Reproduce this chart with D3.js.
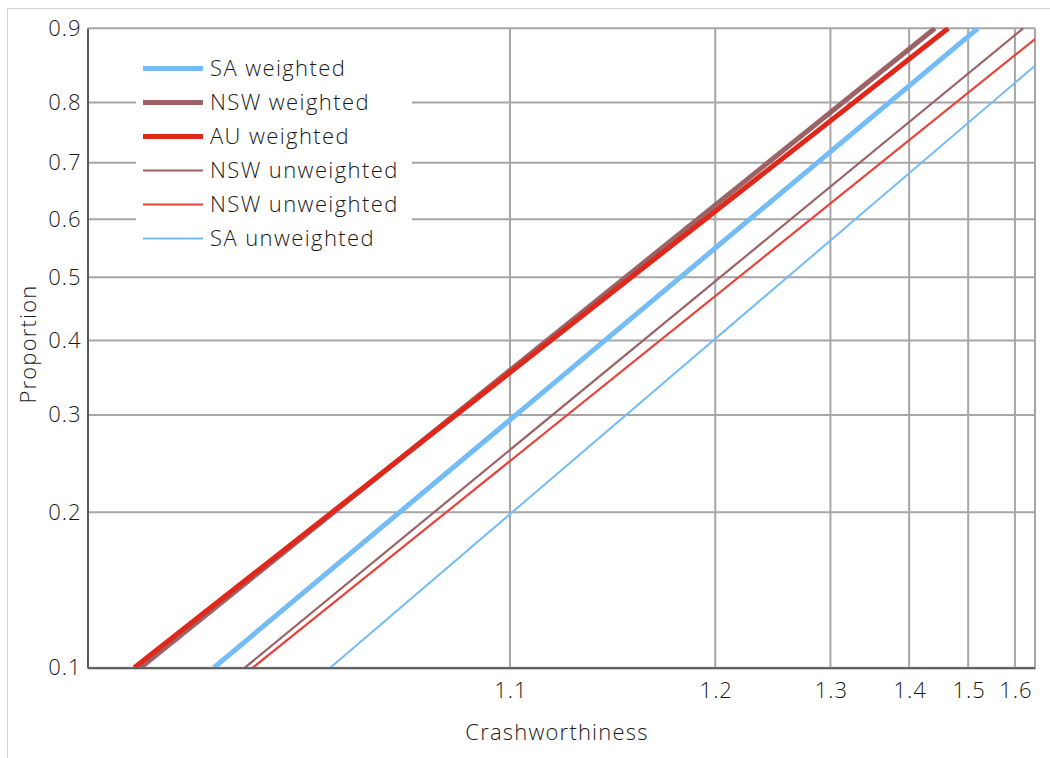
<!DOCTYPE html>
<html>
<head>
<meta charset="utf-8">
<script src="https://cdn.jsdelivr.net/npm/d3@7"></script>
<style>
  html, body { margin: 0; padding: 0; background: #fff; }
  svg { display: block; }
  text { font-family: "Open Sans", sans-serif; font-weight: 300; fill: #1a1a1a; }
</style>
</head>
<body>
<svg id="chart" width="1050" height="758"></svg>
<script>
// ---------- data ----------
const xTicks = [1.1, 1.2, 1.3, 1.4, 1.5, 1.6];
const xTickLabels = ["1.1", "1.2", "1.3", "1.4", "1.5", "1.6"];
const yTicks = [0.1, 0.2, 0.3, 0.4, 0.5, 0.6, 0.7, 0.8, 0.9];
const yTickLabels = ["0.1", "0.2", "0.3", "0.4", "0.5", "0.6", "0.7", "0.8", "0.9"];
const xDomain = [1.0254, 1.65];
const yDomain = [0.1, 0.9];

const seriesNames = ["SA weighted", "NSW weighted", "AU weighted", "NSW unweighted", "NSW unweighted", "SA unweighted"];
// [crashworthiness, proportion] end points of each fitted line
const saWeighted    = [[1.0381, 0.1], [1.5191, 0.9]];
const nswWeighted   = [[1.0301, 0.1], [1.4405, 0.9]];
const auWeighted    = [[1.0295, 0.1], [1.4633, 0.9]];
const nswUnweighted = [[1.0421, 0.1], [1.6200, 0.9]];
const nswUnweighted2 = [[1.0432, 0.1], [1.6500, 0.8877]];
const saUnweighted  = [[1.0555, 0.1], [1.6500, 0.8538]];
const seriesData = [saWeighted, nswWeighted, auWeighted, nswUnweighted, nswUnweighted2, saUnweighted];

// ---------- styles ----------
const seriesColors = ["#74bcf5", "#9b6366", "#e1261a", "#9b6366", "#e8423a", "#74bcf5"];
const seriesWidths = [5, 5, 5, 2.2, 2.2, 2];
const fontFamily = "'Open Sans', sans-serif";

// ---------- layout ----------
const svg = d3.select("#chart");
const pLeft = 87.5, pRight = 1035, pTop = 28.3, pBottom = 667.7;

// Weibull-probability transforms
const tx = v => Math.log(Math.log(v));
const ty = p => Math.log(-Math.log(1 - p));

const xLin = d3.scaleLinear().domain(xDomain.map(tx)).range([pLeft, pRight]);
const yLin = d3.scaleLinear().domain(yDomain.map(ty)).range([pBottom, pTop]);
const x = v => xLin(tx(v));
const y = p => yLin(ty(p));

// outer frame
svg.append("rect")
  .attr("x", 7.5).attr("y", 8.5).attr("width", 1100).attr("height", 800)
  .attr("fill", "none").attr("stroke", "#d4d4d4").attr("stroke-width", 1);

// grid
const grid = svg.append("g");
grid.selectAll("line.gx").data(xTicks).join("line")
  .attr("x1", d => x(d)).attr("x2", d => x(d))
  .attr("y1", pTop).attr("y2", pBottom)
  .attr("stroke", "#a6a6a6").attr("stroke-width", 2);
grid.selectAll("line.gy").data(yTicks).join("line")
  .attr("x1", pLeft).attr("x2", pRight)
  .attr("y1", d => y(d)).attr("y2", d => y(d))
  .attr("stroke", "#a6a6a6").attr("stroke-width", 2);
grid.append("line").attr("x1", pRight).attr("x2", pRight).attr("y1", pTop).attr("y2", pBottom)
  .attr("stroke", "#a6a6a6").attr("stroke-width", 2);

// legend background (covers grid)
const legendX = 143, legendY0 = 68.5, legendStep = 34;
svg.append("rect").attr("x", 136).attr("y", 48).attr("width", 276).attr("height", 210).attr("fill", "#fff");

// clip
svg.append("clipPath").attr("id", "clip").append("rect")
  .attr("x", pLeft).attr("y", pTop - 1).attr("width", pRight - pLeft).attr("height", pBottom - pTop + 1);

const line = d3.line().x(d => x(d[0])).y(d => y(d[1]));
svg.append("g").attr("clip-path", "url(#clip)")
  .selectAll("path").data(seriesData).join("path")
  .attr("d", line)
  .attr("fill", "none")
  .attr("stroke", (d, i) => seriesColors[i])
  .attr("stroke-width", (d, i) => seriesWidths[i]);

// axes
const xAxis = d3.axisBottom(xLin).tickValues(xTicks.map(tx)).tickFormat((d, i) => xTickLabels[i]).tickSize(0).tickPadding(15);
const yAxis = d3.axisLeft(yLin).tickValues(yTicks.map(ty)).tickFormat((d, i) => yTickLabels[i]).tickSize(0).tickPadding(6);
const gx = svg.append("g").attr("transform", `translate(0,${pBottom})`).call(xAxis);
const gy = svg.append("g").attr("transform", `translate(${pLeft},0)`).call(yAxis);
[gx, gy].forEach(g => {
  g.select(".domain").attr("stroke", "#5a5a5a").attr("stroke-width", 2);
  g.selectAll("text").style("font-family", fontFamily).style("font-weight", 300)
    .style("font-size", "22px").style("letter-spacing", "1px").attr("fill", "#1a1a1a");
});
gx.selectAll("text").attr("dx", "0.5px");

// axis titles
svg.append("text").attr("x", 557).attr("y", 740).attr("text-anchor", "middle")
  .style("font-size", "22px").style("letter-spacing", "1.2px").text("Crashworthiness");
svg.append("text").attr("transform", "translate(36,344) rotate(-90)").attr("text-anchor", "middle")
  .style("font-size", "22px").style("letter-spacing", "1.2px").text("Proportion");

// legend
const lg = svg.append("g");
seriesNames.forEach((name, i) => {
  const yy = legendY0 + i * legendStep;
  lg.append("line").attr("x1", legendX).attr("x2", 203).attr("y1", yy).attr("y2", yy)
    .attr("stroke", seriesColors[i]).attr("stroke-width", seriesWidths[i]);
  lg.append("text").attr("x", 210).attr("y", yy).attr("dy", "0.36em")
    .style("font-size", "22px").style("letter-spacing", "1.4px").text(name);
});
</script>
</body>
</html>
